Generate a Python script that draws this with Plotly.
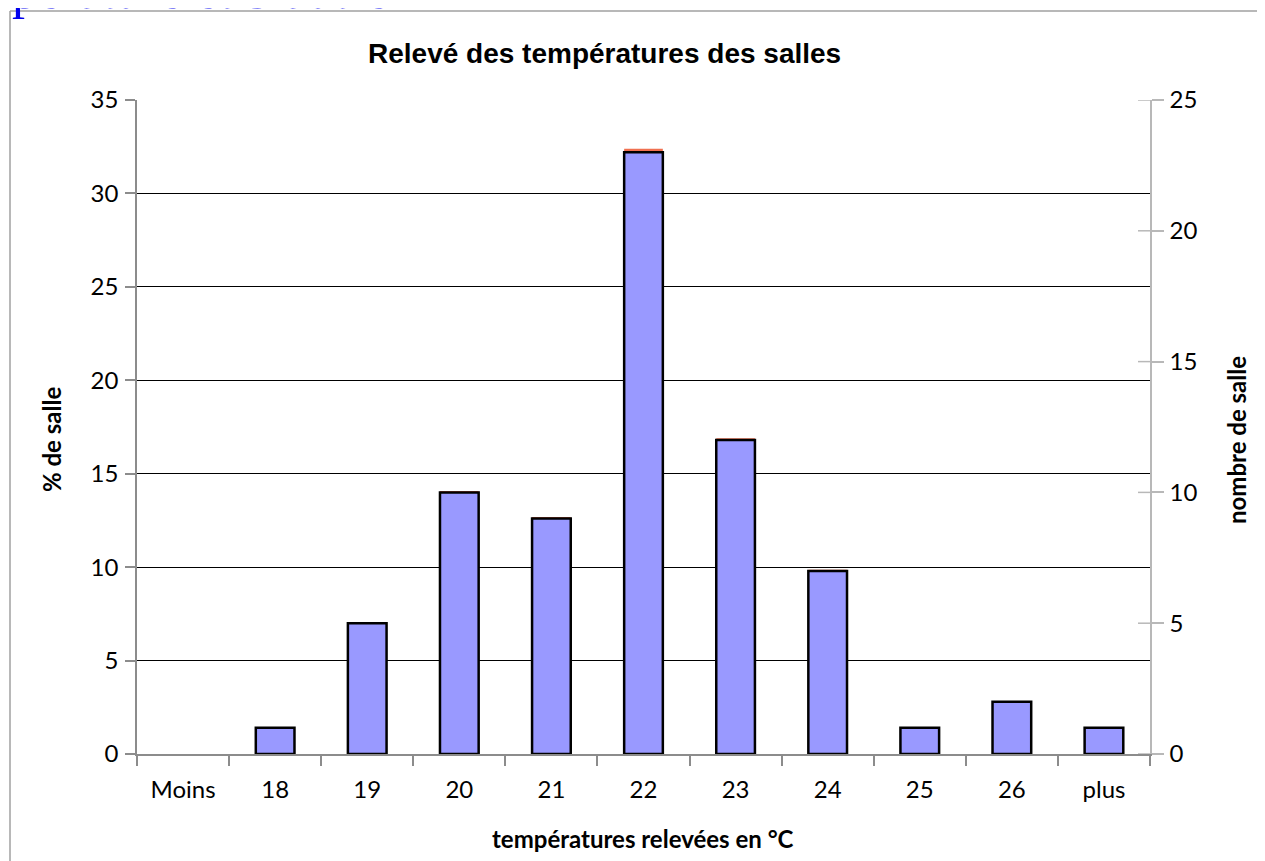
import plotly.graph_objects as go

categories = ["Moins", "18", "19", "20", "21", "22", "23", "24", "25", "26", "plus"]
nombre_salles = [0, 1, 5, 10, 9, 23, 12, 7, 1, 2, 1]
pourcent_salles = [0.0, 1.41, 7.04, 14.08, 12.68, 32.39, 16.90, 9.86, 1.41, 2.82, 1.41]

OFF = 8  # page body margin
W, H = 1265 - OFF, 861 - OFF
L, T = 137 - OFF, 100 - OFF
R = W - (1150 - OFF)
B = H - (754 - OFF)
PW, PH = W - L - R, H - T - B


def px(x):
    return (x - OFF - L) / PW


def py(y):
    return (H - B - (y - OFF)) / PH


fig = go.Figure()
fig.add_trace(go.Bar(
    x=categories, y=pourcent_salles, yaxis="y", name="% de salle",
    marker=dict(color="#F07050", line=dict(width=0)),
    width=0.42, offset=-0.21, showlegend=False, hoverinfo="x+y",
))
fig.add_trace(go.Bar(
    x=categories, y=nombre_salles, yaxis="y2", name="nombre de salle",
    marker=dict(color="#9999FF",
                line=dict(color="black", width=[0 if v == 0 else 2.5 for v in nombre_salles])),
    width=0.42, offset=-0.21, showlegend=False, hoverinfo="x+y",
))

tick_font = dict(family="Lato, Carlito, sans-serif", size=24, color="black")
title_font = dict(family="Lato, Carlito, sans-serif", size=24, color="black", weight="bold")

fig.update_layout(
    width=W, height=H,
    margin=dict(l=L, r=R, t=T, b=B, autoexpand=False),
    paper_bgcolor="white", plot_bgcolor="white",
    barmode="overlay",
    showlegend=False,
    xaxis=dict(
        type="category", categoryorder="array", categoryarray=categories,
        range=[-0.5, 10.5],
        showline=True, linecolor="#8c8c8c", linewidth=1.5,
        ticks="outside", tickson="boundaries", ticklen=10, tickcolor="#8c8c8c", tickwidth=1.5,
        showgrid=False, zeroline=False,
        tickfont=tick_font, ticklabelstandoff=13,
    ),
    yaxis=dict(
        range=[0, 35], dtick=5, tick0=0,
        showline=True, linecolor="#8c8c8c", linewidth=1.5,
        ticks="outside", ticklen=10, tickcolor="#8c8c8c", tickwidth=1.5,
        showgrid=True, gridcolor="black", gridwidth=1,
        zeroline=False,
        tickfont=tick_font, ticklabelstandoff=2,
    ),
    yaxis2=dict(
        range=[0, 25], dtick=5, tick0=0,
        overlaying="y", side="right", anchor="x",
        showline=True, linecolor="#b8b8b8", linewidth=1.5,
        ticks="outside", ticklen=12, tickcolor="#b8b8b8", tickwidth=1.5,
        showgrid=False, zeroline=False,
        tickfont=tick_font, ticklabelstandoff=1,
    ),
)

shapes = []
# inner halves of the crossing ticks on the right axis
for v in range(0, 26, 5):
    shapes.append(dict(type="line", xref="paper", yref="y2",
                       x0=px(1138), x1=1.0, y0=v, y1=v,
                       line=dict(color="#b8b8b8", width=1.5)))
# outer frame (grey border of the embedded chart)
shapes.append(dict(type="line", xref="paper", yref="paper",
                   x0=px(10), x1=px(10), y0=py(11), y1=py(H + 20),
                   line=dict(color="#a0a0a0", width=1.5)))
shapes.append(dict(type="line", xref="paper", yref="paper",
                   x0=px(10), x1=px(W + 20), y0=py(11), y1=py(11),
                   line=dict(color="#a0a0a0", width=1.5)))
fig.update_layout(shapes=shapes)

annotations = [
    dict(text="Relevé des températures des salles", xref="paper", yref="paper",
         x=px(604), y=py(54), xanchor="center", yanchor="middle", showarrow=False,
         font=dict(family="Liberation Sans, Arial, sans-serif", size=28, color="black", weight="bold")),
    dict(text="% de salle", xref="paper", yref="paper",
         x=px(51), y=py(440), xanchor="center", yanchor="middle", showarrow=False,
         textangle=-90, font=title_font),
    dict(text="nombre de salle", xref="paper", yref="paper",
         x=px(1236), y=py(440), xanchor="center", yanchor="middle", showarrow=False,
         textangle=-90, font=title_font),
    dict(text="températures relevées en °C", xref="paper", yref="paper",
         x=px(643), y=py(838), xanchor="center", yanchor="middle", showarrow=False,
         font=title_font),
    dict(text="pérature et 5 autre", xref="paper", yref="paper",
         x=px(10), y=py(21), xanchor="left", yanchor="bottom", showarrow=False,
         font=dict(family="Liberation Serif, Times New Roman, serif", size=52, color="#0000EE")),
]
fig.update_layout(annotations=annotations)

fig.write_html("out.html")
